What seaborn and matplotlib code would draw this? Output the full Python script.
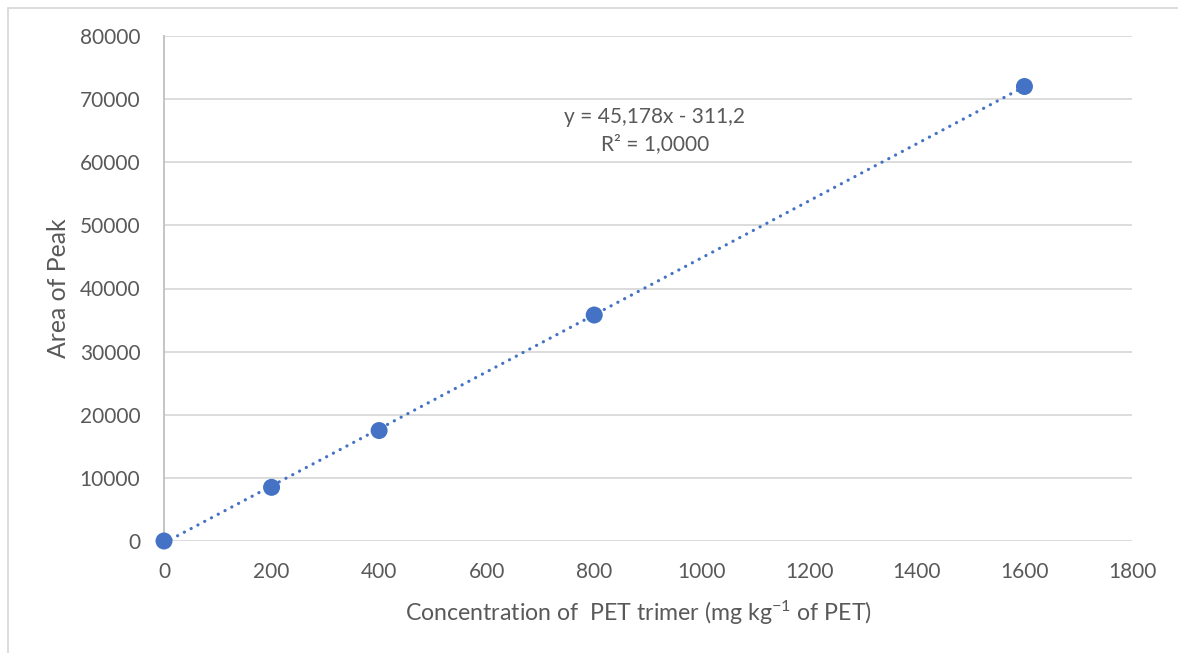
import matplotlib
matplotlib.use("Agg")
import matplotlib.pyplot as plt
import matplotlib.lines as mlines
import numpy as np
import pandas as pd
import seaborn as sns

# Calibration points
concentration = [0, 200, 400, 800, 1600]
peak_area = [0, 8500, 17500, 35800, 72000]

# Linear trendline coefficients
slope = 45.178
intercept = -311.2
r_squared = 1.0000

x_ticks = [0, 200, 400, 600, 800, 1000, 1200, 1400, 1600, 1800]
y_ticks = [0, 10000, 20000, 30000, 40000, 50000, 60000, 70000, 80000]

sns.set_theme(style="white")
plt.rcParams["font.family"] = ["Lato", "DejaVu Sans"]
plt.rcParams["mathtext.default"] = "regular"

text_color = "#595959"
point_color = "#4472C4"

fig = plt.figure(figsize=(11.78, 6.53), dpi=100)
ax = fig.add_axes([164 / 1178, 1 - 541 / 653, 968 / 1178, 505 / 653])

df = pd.DataFrame({"conc": concentration, "area": peak_area})

# Trendline across the measured range
trend = pd.DataFrame({"conc": [concentration[0], concentration[-1]]})
trend["area"] = slope * trend["conc"] + intercept
sns.lineplot(data=trend, x="conc", y="area", ax=ax, color=point_color,
             linewidth=2.3, linestyle=(0, (0.05, 2.35)),
             dash_capstyle="round", zorder=3)

sns.scatterplot(data=df, x="conc", y="area", ax=ax, color=point_color,
                s=150, edgecolor="none", zorder=4, clip_on=False)

ax.set_xlim(0, 1800)
ax.set_ylim(0, 80000)
ax.set_xticks(x_ticks)
ax.set_yticks(y_ticks)
ax.yaxis.grid(True, color="#D9D9D9", linewidth=1.3)
ax.xaxis.grid(False)
ax.set_axisbelow(True)

for side in ["top", "right", "bottom"]:
    ax.spines[side].set_visible(False)
ax.spines["left"].set_color("#BFBFBF")
ax.spines["left"].set_linewidth(1.3)

ax.tick_params(axis="both", length=0, labelsize=15, colors=text_color)
ax.tick_params(axis="x", pad=15)
ax.tick_params(axis="y", pad=17)

ax.set_xlabel("Concentration of  PET trimer (mg kg$^{-1}$ of PET)",
              fontsize=16.7, color=text_color)
ax.set_ylabel("Area of Peak", fontsize=17.8, color=text_color)
ax.xaxis.set_label_coords(0.49, -0.1426)
ax.xaxis.label.set_va("center")
ax.yaxis.set_label_coords(-0.1095, 0.5)
ax.yaxis.label.set_va("center")

eq = f"y = {slope:.3f}x - {abs(intercept):.1f}".replace(".", ",")
r2 = f"R² = {r_squared:.4f}".replace(".", ",")
ax.text(913, 65000, eq + "\n" + r2, ha="center", va="center",
        fontsize=15, color=text_color, linespacing=1.45)

# Chart frame
frame_color = "#D9D9D9"
fig.add_artist(mlines.Line2D([7.5 / 1178, 7.5 / 1178], [0, 1 - 7.5 / 653],
                             transform=fig.transFigure, color=frame_color, lw=1.3))
fig.add_artist(mlines.Line2D([7.5 / 1178, 1], [1 - 7.5 / 653, 1 - 7.5 / 653],
                             transform=fig.transFigure, color=frame_color, lw=1.3))

fig.savefig("out.png", dpi=100, facecolor="white")
